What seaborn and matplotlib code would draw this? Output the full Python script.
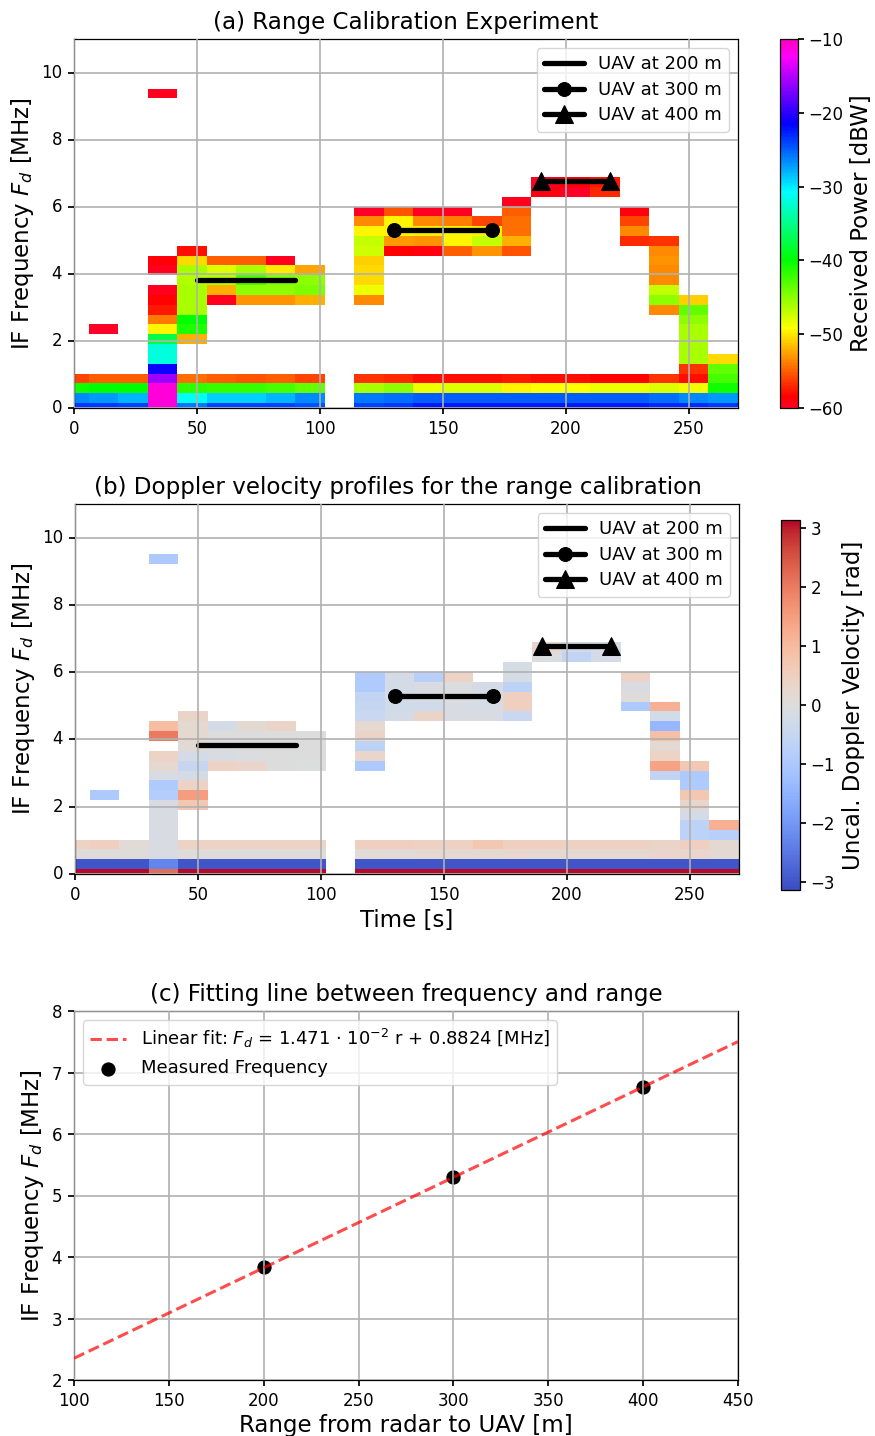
import numpy as np
import pandas as pd
import matplotlib
matplotlib.use("Agg")
import matplotlib.pyplot as plt
import seaborn as sns

n = np.nan

# time bins [s] and frequency spacing of the range cells [MHz]
time_bins = [0, 12, 24, 36, 48, 60, 72, 84, 96, 108, 120, 132, 144, 156, 168, 180, 192, 204, 216, 228, 240, 252, 264]
freq_step = 0.293
n_freq = 39

# received power [dBW], one list per time bin, lowest frequency first
power_cols = [
    [-23.5, -26.5, -40.5, -56],
    [-23.5, -27, -40, -55, n, n, n, n, -60],
    [-24, -28, -40, -55],
    [-11, -11, -11, -16, -21, -32, -32, -37.5, -49.5, -54, -57.5, -58.5, -59.5, n, -59.5, -58.8] + [n] * 16 + [-59.5],
    [-26, -31, -41.5, -54.5, n, n, n, -52, -41, -40, -46, -46, -46, -46.5, -46, -50.5, -58],
    [-24, -29, -42, -55] + [n] * 7 + [-59.5, -52, -46.5, -48, -55],
    [-24, -29, -42, -55.5] + [n] * 7 + [-53, -45, -42.5, -46, -55],
    [-24, -28, -42.5, -55] + [n] * 7 + [-53, -45, -44.5, -50, -59.5],
    [-24.5, -26.5, -43.5, -56] + [n] * 7 + [-52, -44.5, -45, -52.5],
    [],
    [-24, -26, -46, -56.5] + [n] * 7 + [-53.5, -48.5, -50.5, -50.5, -51, -47.5, -47, -49.5, -53.5, -60],
    [-23.5, -25.5, -45, -57] + [n] * 12 + [-58.5, -52.8, -49.5, -49.6, -55.5],
    [-22.5, -25, -48.5, -58] + [n] * 12 + [-59, -53, -49.7, -53.5, -59.8],
    [-22.5, -25, -48, -58] + [n] * 12 + [-55, -49.5, -49.6, -53.8, -59.8],
    [-22.5, -25, -48, -58] + [n] * 12 + [-53, -47, -49.7, -56],
    [-22.5, -25, -49.5, -57.5] + [n] * 12 + [-55.5, -52, -54.5, -54.5, -55, -59.5],
    [-22.5, -25, -49.25, -58] + [n] * 18 + [-59, -59.8],
    [-22.5, -25, -49.25, -58] + [n] * 18 + [-60, -58.5],
    [-22.5, -25, -48.5, -58.3] + [n] * 18 + [-57, -57.5],
    [-22.5, -25, -48.5, -58.3] + [n] * 13 + [-57, -53.5, -56, -59],
    [-23, -25.5, -48, -56.5] + [n] * 6 + [-53.5, -45, -47, -53.5, -53.5, -53, -53.5, -56.5],
    [-23, -26.5, -48.8, -58, -56.5, -46, -46, -46, -46, -45, -43.5, -51],
    [-23.5, -27, -40.5, -42.5, -43.5, -50.5],
]

# uncalibrated Doppler velocity [rad], same layout
phase_cols = [
    [3.1, -3, 0.05, 0.4],
    [3.1, -3, 0.05, 0.5, n, n, n, n, -1.0],
    [3.1, -3, 0.05, 0.1],
    [2.2, -2.3, -0.1, -0.1, -0.1, -0.1, -0.1, -0.1, -0.85, -0.95, -0.1, 0.2, 0.4, n, 2.0, 0.95] + [n] * 16 + [-1.0],
    [3.1, -3, 0.05, 0.4, n, n, n, 0.7, 1.5, 0.4, -0.2, -0.5, -0.2, 0.15, 0.2, 0.2, 0.35],
    [3.1, -3, 0.05, 0.4] + [n] * 7 + [0.4, -0.1, -0.05, 0, -0.2],
    [3.1, -3, 0.03, 0.4] + [n] * 7 + [0.3, -0.05, 0, 0, 0.15],
    [3.1, -3, 0.05, 0.4] + [n] * 7 + [0, 0, 0, 0, 0.35],
    [3.1, -3, 0.05, 0.4] + [n] * 7 + [-0.02, 0, 0, 0],
    [],
    [3.1, -3, 0.1, 0.5] + [n] * 7 + [-1, 0.3, -0.7, 0.35, 0.2, -0.45, -0.5, -0.6, -0.95, -0.95],
    [3.1, -3, 0.1, 0.5] + [n] * 12 + [-0.2, -0.3, -0.2, -0.2, -0.2],
    [3.1, -3, 0.2, 0.45] + [n] * 12 + [0.35, -0.3, -0.1, -0.1, -0.8],
    [3.1, -3, 0.2, 0.45] + [n] * 12 + [-0.1, -0.1, -0.05, -0.05, 0.4],
    [3.1, -3, 0.2, 0.7] + [n] * 12 + [-0.1, -0.15, -0.15, -0.2],
    [3.1, -3, 0.25, 0.5] + [n] * 12 + [-0.45, 0.5, 0.5, -0.7, -0.15, -0.15],
    [3.1, -3, 0.2, 0.5] + [n] * 18 + [-0.05, 0.3],
    [3.1, -3, 0.2, 0.45] + [n] * 18 + [-0.6, -0.3],
    [3.1, -3, 0.2, 0.45] + [n] * 18 + [-0.2, -0.2],
    [3.1, -3, 0.2, 0.45] + [n] * 13 + [-1, 0.05, -0.1, 0.4],
    [3.1, -3, 0.3, 0.35] + [n] * 6 + [-0.6, 1.4, 0.4, 0.15, 0.9, -1.4, -0.25, 1.2],
    [3.1, -3, 0.3, 0.5, -0.7, -0.7, -0.2, 0.3, 0.7, -0.95, -1, 0.7],
    [3.1, -3, 0.15, 0.2, -0.8, 1.2],
]

# UAV hover segments
uav_labels = ["UAV at 200 m", "UAV at 300 m", "UAV at 400 m"]
uav_times = [[50, 90], [130, 170], [190, 218]]
uav_freqs = [3.83, 5.30, 6.77]
uav_markers = [None, "o", "^"]

# range fit
ranges = [200, 300, 400]
fit_range = [100, 450]
fit_slope = 1.471e-2
fit_offset = 0.8824

W, H = 875, 1436


def px_axes(x0, y0, x1, y1):
    return fig.add_axes([x0 / W, 1 - y1 / H, (x1 - x0) / W, (y1 - y0) / H])


def to_col(t):
    return (np.asarray(t, dtype=float) + 6) / 12


def to_row(f):
    return np.asarray(f, dtype=float) / freq_step + 0.5


def to_frame(cols):
    rows = [list(c) + [n] * (n_freq - len(c)) for c in cols]
    return pd.DataFrame(np.array(rows).T, columns=time_bins)


def heat_panel(ax, cax, cols, cmap, vmin, vmax, cticks, clabel, title, title_x=0.5):
    sns.heatmap(to_frame(cols), ax=ax, cbar_ax=cax, cmap=cmap, vmin=vmin, vmax=vmax,
                cbar_kws={"ticks": cticks})
    cax.set_ylabel(clabel, fontsize=16.5, labelpad=5)
    cax.tick_params(labelsize=12, length=4)
    ax.collections[0].colorbar.outline.set_visible(True)
    ax.collections[0].colorbar.outline.set_linewidth(0.9)

    for i, lab in enumerate(uav_labels):
        xs = list(to_col(uav_times[i]))
        ys = [float(to_row(uav_freqs[i]))] * 2
        sns.lineplot(x=xs, y=ys, ax=ax, color="black", linewidth=3.8, marker=uav_markers[i],
                     markersize=10 if i == 1 else 13, markeredgecolor="black", label=lab,
                     errorbar=None, sort=False)

    ax.set_xlim(to_col(0), to_col(270))
    ax.set_ylim(to_row(0), to_row(11))
    xt = [0, 50, 100, 150, 200, 250]
    yt = [0, 2, 4, 6, 8, 10]
    ax.set_xticks(to_col(xt), [str(v) for v in xt], rotation=0)
    ax.set_yticks(to_row(yt), [str(v) for v in yt], rotation=0)
    ax.tick_params(labelsize=12, length=4, pad=4.5, left=True, bottom=True)
    ax.grid(True, color="#b0b0b0", linewidth=1.2)
    ax.set_axisbelow(False)
    for s in ax.spines.values():
        s.set_visible(True)
        s.set_linewidth(0.9)
    ax.set_ylabel(r"IF Frequency $F_d$ [MHz]", fontsize=16.5, labelpad=4)
    ax.set_title(title, fontsize=16.6, pad=7, x=title_x)
    ax.legend(loc="upper right", fontsize=13, framealpha=0.8, handlelength=2.2, labelspacing=0.42)


sns.set_theme(style="white", rc={"font.family": ["DejaVu Sans"], "mathtext.fontset": "dejavusans",
                                 "text.color": "black", "axes.labelcolor": "black",
                                 "xtick.color": "black", "ytick.color": "black",
                                 "axes.edgecolor": "black"})

fig = plt.figure(figsize=(W / 100, H / 100), dpi=100)

ax_a = px_axes(74, 39, 738, 408)
cax_a = px_axes(780, 39, 798, 408)
ax_b = px_axes(75, 504, 739, 874)
cax_b = px_axes(781, 520, 800, 890)
ax_c = px_axes(74, 1011, 738, 1380)

heat_panel(ax_a, cax_a, power_cols, "gist_rainbow", -60, -10, [-60, -50, -40, -30, -20, -10],
           "Received Power [dBW]", "(a) Range Calibration Experiment")
heat_panel(ax_b, cax_b, phase_cols, "coolwarm", -np.pi, np.pi, [-3, -2, -1, 0, 1, 2, 3],
           "Uncal. Doppler Velocity [rad]", "(b) Doppler velocity profiles for the range calibration", title_x=0.486)
ax_a.set_xlabel("")
ax_b.set_xlabel("Time [s]", fontsize=16.5, labelpad=4)

# fitting line panel
fit_x = np.array(fit_range)
sns.scatterplot(x=ranges, y=uav_freqs, ax=ax_c, color="black", s=90, edgecolor="black",
                label="Measured Frequency", zorder=2)
sns.lineplot(x=fit_x, y=fit_slope * fit_x + fit_offset, ax=ax_c, color="red", alpha=0.7, linestyle="--",
             linewidth=2.2, label=r"Linear fit: $F_d$ = 1.471 $\cdot$ $10^{-2}$ r + 0.8824 [MHz]", zorder=5)
ax_c.set_xlim(100, 450)
ax_c.set_ylim(2, 8)
ax_c.grid(True, color="#b0b0b0", linewidth=1.2)
ax_c.set_axisbelow(False)
ax_c.tick_params(labelsize=12, length=4, pad=4.5, left=True, bottom=True)
for s in ax_c.spines.values():
    s.set_linewidth(0.9)
ax_c.set_xlabel("Range from radar to UAV [m]", fontsize=16.5, labelpad=3)
ax_c.set_ylabel(r"IF Frequency $F_d$ [MHz]", fontsize=16.5, labelpad=4)
ax_c.set_title("(c) Fitting line between frequency and range", fontsize=16.6, pad=7)
# fit line first in the legend
handles, labels = ax_c.get_legend_handles_labels()
ax_c.legend(handles[::-1], labels[::-1], loc="upper left", fontsize=13, framealpha=0.8)

fig.savefig("out.png", dpi=100)
